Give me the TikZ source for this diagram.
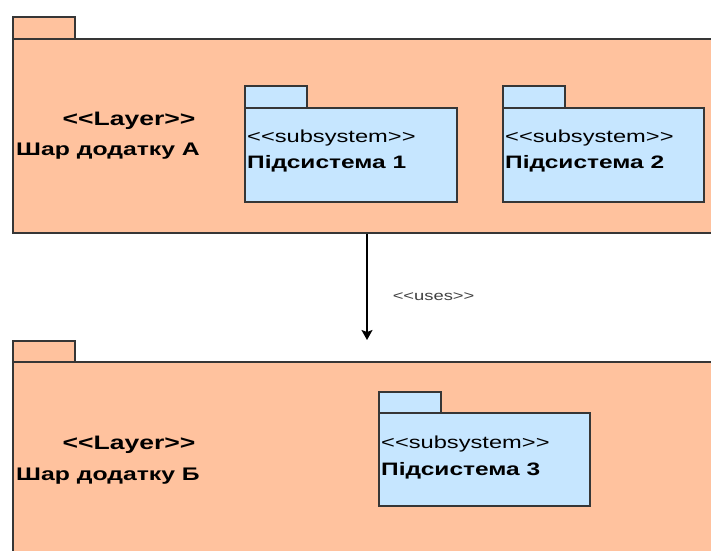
\documentclass[tikz,border=0pt]{standalone}
\usepackage{fontspec}
\setmainfont{Liberation Sans}[FakeStretch=1.36]
\usetikzlibrary{arrows.meta}

\definecolor{layerfill}{RGB}{255,194,158}
\definecolor{subfill}{RGB}{198,230,255}
\definecolor{pkgline}{RGB}{54,54,54}

\begin{document}
\begin{tikzpicture}
	[
		x=1pt, y=1pt,
		layer/.style={draw=pkgline, fill=layerfill, line width=1.6pt, anchor=north west, inner sep=0},
		subsys/.style={draw=pkgline, fill=subfill, line width=1.6pt, anchor=north west, inner sep=0},
		tab/.style={minimum width=62pt, minimum height=22pt},
		stereo/.style={inner sep=0, font=\fontsize{19.5}{24}\selectfont\bfseries},
		lname/.style={inner sep=0, anchor=west, font=\fontsize{18.2}{22}\selectfont\bfseries},
		substereo/.style={inner sep=0, anchor=west, font=\fontsize{17.4}{21}\selectfont},
		subname/.style={inner sep=0, anchor=west, font=\fontsize{18.0}{21}\selectfont\bfseries},
		uses/.style={line width=1.5pt, -{Stealth[length=10pt, width=11pt, inset=2pt]}},
		usestext/.style={inner sep=0, text=black!75, font=\fontsize{13.5}{16}\selectfont}
	]

	\useasboundingbox (0, 0) rectangle (711, 550);
	\clip (0, 0) rectangle (711, 550);

	\node (tabA)    at (12, 534) [layer, tab] {};
	\node (layerA)  at (12, 512) [layer, minimum width=740pt, minimum height=194pt] {};
	\node (stA)     at (129, 429) [stereo] {<{}<Layer>{}>};
	\node (nameA)   at (16, 399) [lname] {Шар додатку А};

	\node (tab1)    at (244, 465) [subsys, tab] {};
	\node (sub1)    at (244, 443) [subsys, minimum width=212pt, minimum height=94pt] {};
	\node (st1)     at (247, 412) [substereo] {<{}<subsystem>{}>};
	\node (name1)   at (247, 386) [subname] {Підсистема 1};

	\node (tab2)    at (502, 465) [subsys, tab] {};
	\node (sub2)    at (502, 443) [subsys, minimum width=201pt, minimum height=94pt] {};
	\node (st2)     at (505, 412) [substereo] {<{}<subsystem>{}>};
	\node (name2)   at (505, 386) [subname] {Підсистема 2};

	\node (tabB)    at (12, 210) [layer, tab, minimum height=21pt] {};
	\node (layerB)  at (12, 189) [layer, minimum width=740pt, minimum height=230pt] {};
	\node (stB)     at (129, 105) [stereo] {<{}<Layer>{}>};
	\node (nameB)   at (16, 74) [lname] {Шар додатку Б};

	\node (tab3)    at (378, 159) [subsys, tab, minimum height=21pt] {};
	\node (sub3)    at (378, 138) [subsys, minimum width=211pt, minimum height=93pt] {};
	\node (st3)     at (381, 106) [substereo] {<{}<subsystem>{}>};
	\node (name3)   at (381, 79) [subname] {Підсистема 3};

	\coordinate (usesEnd) at (367, 210);
	\draw [uses] (layerA.south -| usesEnd)
		--
		node [usestext, pos=0.59, anchor=west, xshift=25pt] {<{}<uses>{}>}
		(usesEnd);
\end{tikzpicture}
\end{document}
